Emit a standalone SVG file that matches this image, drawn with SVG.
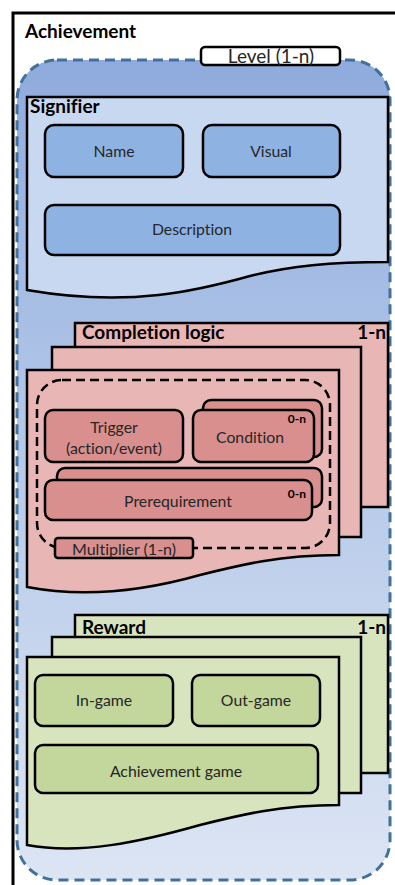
<svg xmlns="http://www.w3.org/2000/svg" width="395" height="885" viewBox="0 0 395 885">
<defs>
<linearGradient id="bg" x1="0" y1="0" x2="0" y2="1">
<stop offset="0" stop-color="#8FABDD"/>
<stop offset="0.45" stop-color="#B3C7E8"/>
<stop offset="1" stop-color="#DCE5F4"/>
</linearGradient>
<style>
text{font-variant-ligatures:none;font-feature-settings:"liga" 0}
.t{font-family:Lato,"Liberation Sans",sans-serif;fill:#262626}
.h{font-family:Lato,"Liberation Sans",sans-serif;font-weight:bold;font-size:19px;fill:#000}
.m{font-size:15.8px;text-anchor:middle}
.s{font-family:Lato,"Liberation Sans",sans-serif;font-weight:bold;font-size:12px;fill:#000}
.pg{stroke:#000;stroke-width:2.5;stroke-linejoin:miter}
.bx{stroke:#000;stroke-width:2.5}
.blue{fill:#C8D8F0}
.bluebx{fill:#8EB3E3}
.pink{fill:#E9B6B6}
.pinkbx{fill:#D98F8E}
.green{fill:#D8E4BD}
.greenbx{fill:#C3D69B}
</style>
</defs>
<rect width="395" height="885" fill="#fff"/>
<g id="achievement">
<path d="M13,885 V13 H395" fill="none" stroke="#000" stroke-width="3"/>
<text class="h" x="25" y="38">Achievement</text>
</g>
<g id="level">
<rect x="17" y="60" width="373" height="820" rx="40" fill="url(#bg)" stroke="#41719C" stroke-width="3" stroke-dasharray="10,6"/>
<rect x="201" y="47" width="139" height="18" rx="4" fill="#fff" stroke="#000" stroke-width="2.5"/>
<text class="t" x="271" y="63" font-size="19" text-anchor="middle">Level (1-n)</text>
</g>
<g id="signifier">
<path class="pg blue" d="M27,97 H388 V262 C330,262 290,266 250,276 C200,290 130,308 27,290 Z"/>
<text class="h" x="30" y="113">Signifier</text>
<g id="name"><rect class="bx bluebx" x="45" y="125" width="138" height="52" rx="9"/><text class="t m" x="114" y="157">Name</text></g>
<g id="visual"><rect class="bx bluebx" x="203" y="125" width="137" height="52" rx="9"/><text class="t m" x="271" y="157">Visual</text></g>
<g id="description"><rect class="bx bluebx" x="45" y="205" width="295" height="50" rx="9"/><text class="t m" x="192" y="235">Description</text></g>
</g>
<g id="completion-logic">
<rect class="pg pink" x="75" y="323" width="313" height="184"/>
<rect class="pg pink" x="52" y="347" width="309" height="190"/>
<path class="pg pink" d="M27,370 H339 V555 C280,555 240,565 200,575 C140,592 80,597 27,587 Z"/>
<text class="h" x="82" y="339">Completion logic</text>
<text class="h" x="386" y="339" text-anchor="end">1-n</text>
<rect x="37" y="380" width="293" height="168" rx="25" fill="none" stroke="#000" stroke-width="2.5" stroke-dasharray="9,5"/>
<g id="trigger"><rect class="bx pinkbx" x="45" y="410" width="138" height="52" rx="8"/><text class="t m" x="114" y="433">Trigger</text><text class="t m" x="114" y="454">(action/event)</text></g>
<g id="condition"><rect class="bx pinkbx" x="203" y="400" width="119" height="57" rx="8"/><rect class="bx pinkbx" x="193" y="410" width="121" height="52" rx="8"/><text class="t m" x="250" y="443">Condition</text><text class="s" x="306" y="423" text-anchor="end">0-n</text></g>
<g id="prerequirement"><rect class="bx pinkbx" x="57" y="468" width="265" height="39" rx="8"/><rect class="bx pinkbx" x="45" y="480" width="267" height="40" rx="8"/><text class="t m" x="178" y="507">Prerequirement</text><text class="s" x="306" y="498" text-anchor="end">0-n</text></g>
<g id="multiplier"><rect x="55" y="538" width="138" height="20" rx="3" fill="#D98F8E" stroke="#000" stroke-width="2.5"/><text class="t" x="124" y="555" font-size="16" text-anchor="middle">Multiplier (1-n)</text></g>
</g>
<g id="reward">
<rect class="pg green" x="75" y="615" width="313" height="158"/>
<rect class="pg green" x="52" y="637" width="309" height="156"/>
<path class="pg green" d="M27,657 H339 V805 C280,805 240,815 200,825 C140,842 80,855 27,845 Z"/>
<text class="h" x="82" y="634">Reward</text>
<text class="h" x="386" y="634" text-anchor="end">1-n</text>
<g id="in-game"><rect class="bx greenbx" x="35" y="675" width="138" height="51" rx="8"/><text class="t m" x="104" y="706">In-game</text></g>
<g id="out-game"><rect class="bx greenbx" x="192" y="675" width="128" height="51" rx="8"/><text class="t m" x="256" y="706">Out-game</text></g>
<g id="achievement-game"><rect class="bx greenbx" x="35" y="745" width="283" height="48" rx="8"/><text class="t m" x="176" y="777">Achievement game</text></g>
</g>
<g id="connectors"></g>
</svg>
